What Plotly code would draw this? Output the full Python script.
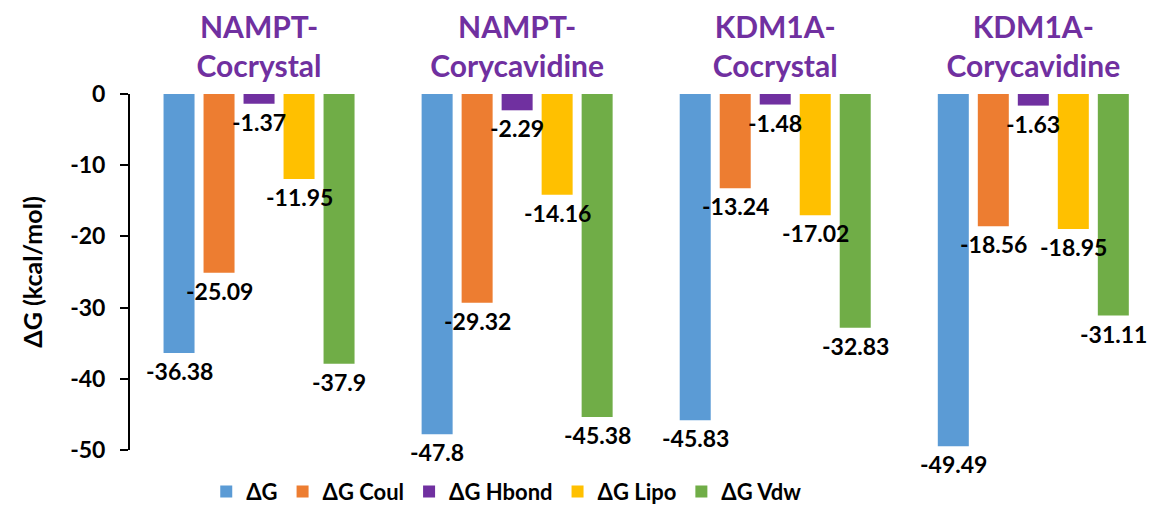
import plotly.graph_objects as go

# Docking energy components per complex
categories = ["NAMPT-<br>Cocrystal", "NAMPT-<br>Corycavidine", "KDM1A-<br>Cocrystal", "KDM1A-<br>Corycavidine"]
series_names = ["ΔG", "ΔG Coul", "ΔG Hbond", "ΔG Lipo", "ΔG Vdw"]
dg_total = [-36.38, -47.8, -45.83, -49.49]
dg_coul = [-25.09, -29.32, -13.24, -18.56]
dg_hbond = [-1.37, -2.29, -1.48, -1.63]
dg_lipo = [-11.95, -14.16, -17.02, -18.95]
dg_vdw = [-37.9, -45.38, -32.83, -31.11]
y_ticks = [0, -10, -20, -30, -40, -50]

series_values = [dg_total, dg_coul, dg_hbond, dg_lipo, dg_vdw]
colors = ["#5B9BD5", "#ED7D31", "#7030A0", "#FFC000", "#70AD47"]

FONT = "Lato, 'Open Sans', sans-serif"

W, H = 1151, 508
M_L, M_R, M_T, M_B = 130, 0, 94, 58
X_RANGE = [-0.5, 3.456]
BARGAP = 0.225

fig = go.Figure()
for name, vals, col in zip(series_names, series_values, colors):
    fig.add_trace(go.Bar(
        x=categories,
        y=vals,
        name=name,
        marker=dict(color=col, line=dict(width=0)),
    ))

# value labels sit on top of every bar, below each bar's end
cat_px = (W - M_L - M_R) / (X_RANGE[1] - X_RANGE[0])
slot_px = cat_px * (1 - BARGAP) / len(series_names)
for i, vals in enumerate(series_values):
    dx = (i - (len(series_names) - 1) / 2) * slot_px
    for cat, v in zip(categories, vals):
        fig.add_annotation(
            x=cat, y=v, xref="x", yref="y",
            text=str(v), showarrow=False,
            xanchor="center", yanchor="top",
            xshift=dx, yshift=-3,
            borderpad=0,
            font=dict(family=FONT, size=23, color="#000000", weight="bold"),
        )

fig.update_layout(
    width=W,
    height=H,
    margin=dict(l=M_L, r=M_R, t=M_T, b=M_B, autoexpand=False),
    paper_bgcolor="white",
    plot_bgcolor="white",
    barmode="group",
    bargap=BARGAP,
    bargroupgap=0.225,
    font=dict(family=FONT, color="#000000"),
    showlegend=True,
    legend=dict(
        orientation="h",
        x=0.369, xanchor="center",
        yref="container",
        y=0.032, yanchor="middle",
        font=dict(family=FONT, size=22, color="#000000", weight="bold"),
        itemwidth=30,
    ),
    xaxis=dict(
        side="top",
        range=X_RANGE,
        showline=False,
        showgrid=False,
        ticks="",
        ticklabelstandoff=10,
        tickfont=dict(family=FONT, size=30, color="#7030A0", weight="bold"),
    ),
    yaxis=dict(
        range=[-50, 0],
        tickvals=y_ticks,
        ticktext=[str(t) for t in y_ticks],
        showline=True,
        linecolor="#000000",
        linewidth=2,
        ticks="outside",
        ticklen=8,
        tickwidth=2,
        tickcolor="#000000",
        ticklabelstandoff=10,
        showgrid=False,
        zeroline=False,
        tickfont=dict(family=FONT, size=23, color="#000000", weight="bold"),
        title=dict(text="ΔG (kcal/mol)", font=dict(family=FONT, size=25, color="#000000", weight="bold"), standoff=20),
    ),
)

fig.write_html("out.html")
